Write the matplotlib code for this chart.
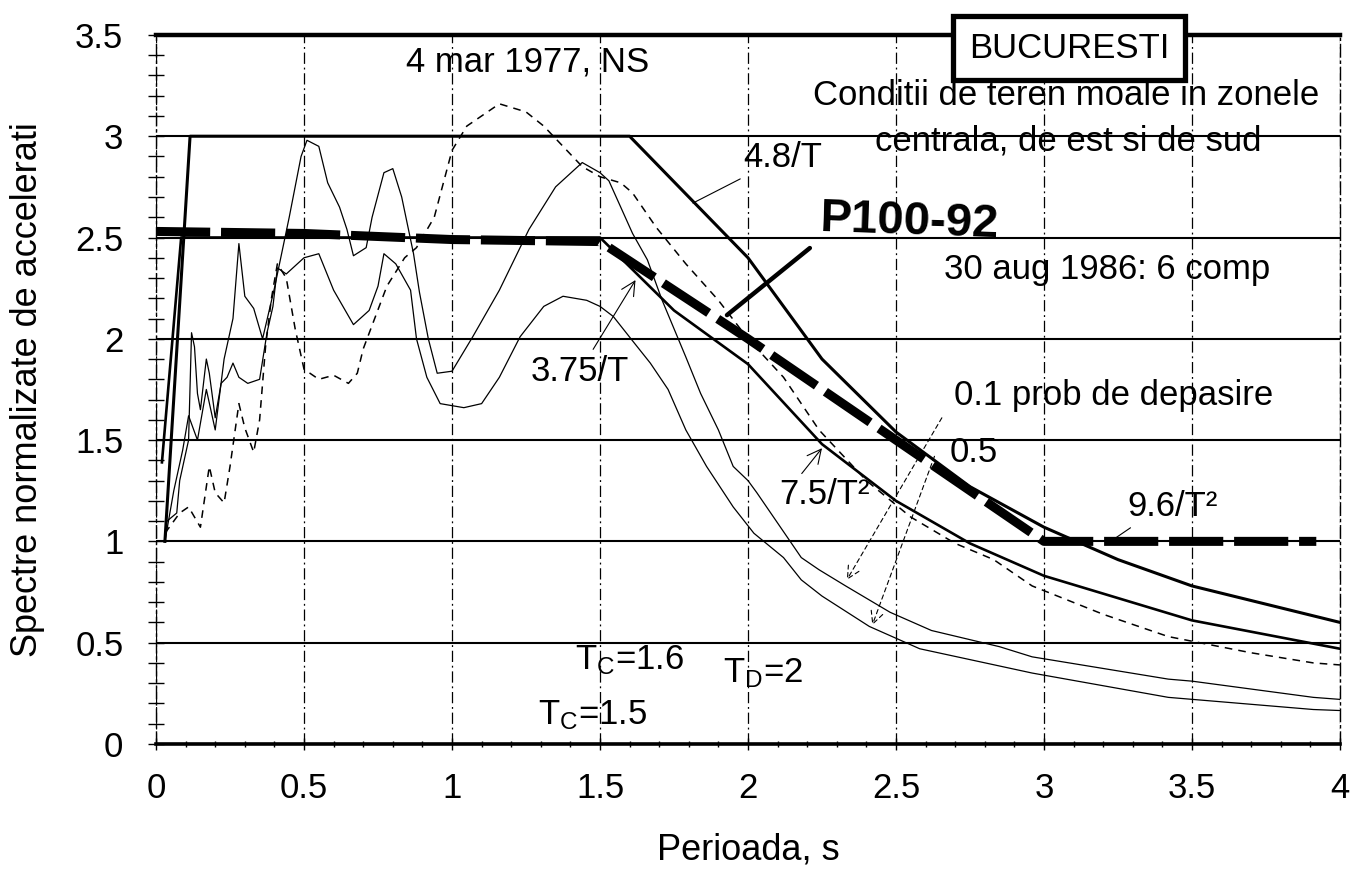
import numpy as np
import matplotlib
matplotlib.use('Agg')
import matplotlib.pyplot as plt
from matplotlib.ticker import MultipleLocator

plt.rcParams['font.family'] = ['Liberation Sans', 'DejaVu Sans']
plt.rcParams['mathtext.default'] = 'regular'

# spectru normativ Tc=1.6, TD=2 (3.0 / 4.8/T / 9.6/T^2)
T_a = [0.03, 0.115, 1.6, 2.0, 2.25, 2.5, 2.75, 3.0, 3.25, 3.5, 4.0]
S_a = [1.0, 3.0, 3.0, 2.4, 1.9, 1.54, 1.27, 1.07, 0.91, 0.78, 0.6]

# spectru normativ Tc=1.5 (2.5 / 3.75/T / 7.5/T^2)
T_b = [0.02, 0.085, 1.5, 1.75, 2.0, 2.25, 2.5, 2.75, 3.0, 3.5, 4.0]
S_b = [1.39, 2.5, 2.5, 2.14, 1.875, 1.48, 1.2, 0.99, 0.83, 0.61, 0.47]

# P100-92
T_p = [0.0, 0.5, 1.0, 1.5, 2.0, 2.5, 3.0, 3.92]
S_p = [2.53, 2.52, 2.49, 2.48, 2.0, 1.5, 1.0, 1.0]

# 4 mar 1977, NS
T_ns = [0.03, 0.08, 0.11, 0.15, 0.18, 0.2, 0.23, 0.25, 0.28, 0.3, 0.33, 0.35,
        0.37, 0.39, 0.41, 0.44, 0.47, 0.5, 0.55, 0.6, 0.65, 0.68, 0.7, 0.78,
        0.84, 0.88, 0.94, 1.0, 1.05, 1.16, 1.25, 1.31, 1.44, 1.5, 1.57, 1.61,
        1.69, 1.79, 1.9, 2.0, 2.12, 2.24, 2.4, 2.55, 2.7, 2.83, 2.96, 3.2,
        3.42, 3.7, 3.91, 4.0]
S_ns = [1.04, 1.14, 1.17, 1.07, 1.37, 1.24, 1.19, 1.37, 1.68, 1.56, 1.44, 1.6,
        1.96, 2.2, 2.37, 2.3, 2.05, 1.85, 1.8, 1.82, 1.78, 1.83, 1.95, 2.26,
        2.4, 2.45, 2.6, 2.93, 3.05, 3.16, 3.12, 3.05, 2.85, 2.8, 2.77, 2.72,
        2.55, 2.37, 2.19, 2.0, 1.81, 1.55, 1.3, 1.12, 0.99, 0.91, 0.78, 0.64,
        0.53, 0.45, 0.40, 0.39]

# 30 aug 1986, prob. de depasire 0.1
T_d1 = [0.03, 0.06, 0.09, 0.11, 0.14, 0.17, 0.2, 0.23, 0.26, 0.28, 0.3, 0.33,
        0.36, 0.4, 0.45, 0.49, 0.51, 0.55, 0.58, 0.62, 0.645, 0.667, 0.71,
        0.73, 0.77, 0.8, 0.83, 0.87, 0.89, 0.92, 0.95, 1.0, 1.07, 1.16, 1.26,
        1.35, 1.44, 1.5, 1.53, 1.61, 1.66, 1.71, 1.79, 1.84, 1.9, 1.95, 2.0,
        2.03, 2.18, 2.24, 2.33, 2.48, 2.62, 2.85, 2.96, 3.42, 3.5, 3.91, 4.0]
S_d1 = [1.0, 1.25, 1.45, 1.62, 1.5, 1.75, 1.55, 1.9, 2.1, 2.47, 2.21, 2.15,
        2.0, 2.25, 2.6, 2.9, 2.98, 2.95, 2.77, 2.65, 2.54, 2.41, 2.45,
        2.6, 2.82, 2.84, 2.7, 2.42, 2.23, 2.0, 1.83, 1.84, 2.01, 2.24, 2.54,
        2.75, 2.87, 2.82, 2.78, 2.52, 2.39, 2.19, 1.91, 1.73, 1.55, 1.37, 1.3,
        1.24, 0.92, 0.86, 0.78, 0.65, 0.56, 0.48, 0.43, 0.32, 0.31, 0.23, 0.22]

# 30 aug 1986, prob. de depasire 0.5
T_d2 = [0.037, 0.07, 0.08, 0.11, 0.12, 0.13, 0.14, 0.15, 0.17, 0.18, 0.2,
        0.22, 0.24, 0.26, 0.28, 0.31, 0.35, 0.375, 0.395, 0.41, 0.44, 0.5,
        0.55, 0.6, 0.667, 0.72, 0.75, 0.77, 0.81, 0.86, 0.88, 0.915, 0.96,
        1.04, 1.1, 1.16, 1.23, 1.31, 1.375, 1.455, 1.5, 1.545, 1.61, 1.67,
        1.73, 1.79, 1.86, 1.95, 2.02, 2.12, 2.18, 2.25, 2.41, 2.58, 2.96,
        3.42, 3.91, 4.0]
S_d2 = [1.1, 1.14, 1.3, 1.5, 2.03, 1.96, 1.73, 1.65, 1.9, 1.83, 1.61,
        1.78, 1.81, 1.88, 1.81, 1.78, 1.8, 2.03, 2.16, 2.35, 2.32, 2.4,
        2.42, 2.24, 2.07, 2.14, 2.26, 2.42, 2.37, 2.24, 2.0, 1.81, 1.68,
        1.66, 1.68, 1.81, 2.01, 2.16, 2.21, 2.19, 2.16, 2.11, 1.99, 1.88,
        1.75, 1.55, 1.37, 1.17, 1.04, 0.92, 0.81, 0.73, 0.58, 0.47, 0.35,
        0.23, 0.17, 0.165]

fig = plt.figure(figsize=(13.52, 8.69), dpi=100)
ax = fig.add_axes([0.1154, 0.1439, 0.8757, 0.8159])

dashdot = (0, (9, 3, 1.5, 3))

ax.plot(T_d2, S_d2, color='k', lw=0.9)
ax.plot(T_d1, S_d1, color='k', lw=0.9)
ax.plot(T_ns, S_ns, color='k', lw=1.1, ls=(0, (5, 4)))
ax.plot(T_b, S_b, color='k', lw=1.9)
ax.plot(T_a, S_a, color='k', lw=2.2)
ax.plot(T_p, S_p, color='k', lw=6.5, ls=(0, (6, 1.2)), zorder=5)

ax.set_xlim(0, 4)
ax.set_ylim(0, 3.5)
ax.xaxis.set_major_locator(MultipleLocator(0.5))
ax.yaxis.set_major_locator(MultipleLocator(0.5))
ax.xaxis.set_minor_locator(MultipleLocator(0.1))
ax.yaxis.set_minor_locator(MultipleLocator(0.1))
ax.xaxis.set_major_formatter(plt.FuncFormatter(lambda v, p: ('%g' % v)))
ax.yaxis.set_major_formatter(plt.FuncFormatter(lambda v, p: ('%g' % v)))

ax.grid(axis='y', which='major', color='k', lw=1.5, ls='-')
ax.grid(axis='x', which='major', color='k', lw=0.9, ls=dashdot)

ax.spines['top'].set_linewidth(3.2)
ax.spines['bottom'].set_linewidth(2.6)
for s in ['left', 'right']:
    ax.spines[s].set_linewidth(1.0)
    ax.spines[s].set_linestyle(dashdot)

ax.tick_params(axis='y', which='both', direction='inout', length=11, width=1,
               labelsize=25, pad=18)
ax.tick_params(axis='x', which='major', direction='inout', length=8, width=1,
               labelsize=25, pad=16)
ax.tick_params(axis='x', which='minor', direction='inout', length=5, width=1)

ax.set_xlabel('Perioada, s', fontsize=26)
ax.set_ylabel('Spectre normalizate de accelerati', fontsize=26)
ax.xaxis.set_label_coords(0.5, -0.125)
ax.yaxis.set_label_coords(-0.094, 0.5)

fs = 25
ax.text(1.257, 3.366, '4 mar 1977, NS', fontsize=fs, ha='center', va='center')
ax.text(3.084, 3.435, 'BUCURESTI', fontsize=fs, ha='center', va='center', zorder=6,
        bbox=dict(boxstyle='square,pad=0.45', fc='white', ec='k', lw=3.8))
ax.text(3.074, 3.203, 'Conditii de teren moale in zonele', fontsize=fs,
        ha='center', va='center')
ax.text(3.081, 2.976, 'centrala, de est si de sud', fontsize=fs,
        ha='center', va='center')
ax.text(3.213, 2.34, '30 aug 1986: 6 comp', fontsize=fs, ha='center', va='center')
ax.text(3.236, 1.718, '0.1 prob de depasire', fontsize=fs, ha='center', va='center')
ax.text(2.764, 1.441, '0.5', fontsize=fs, ha='center', va='center')

ax.annotate('4.8/T', xy=(1.814, 2.67), xytext=(2.118, 2.897), fontsize=fs,
            ha='center', va='center',
            arrowprops=dict(arrowstyle='-', lw=0.8, color='k', shrinkA=4, shrinkB=0))
ax.annotate('3.75/T', xy=(1.62, 2.29), xytext=(1.432, 1.841), fontsize=fs,
            ha='center', va='center',
            arrowprops=dict(arrowstyle='->', lw=0.8, color='k', shrinkA=2, shrinkB=0))
ax.annotate('7.5/T²', xy=(2.25, 1.46), xytext=(2.26, 1.229), fontsize=fs,
            ha='center', va='center',
            arrowprops=dict(arrowstyle='->', lw=0.8, color='k', shrinkA=2, shrinkB=0,
                            relpos=(0.2, 1.0)))
ax.annotate('9.6/T²', xy=(3.245, 1.02), xytext=(3.436, 1.17), fontsize=fs,
            ha='center', va='center',
            arrowprops=dict(arrowstyle='-', lw=0.8, color='k', shrinkA=2, shrinkB=0,
                            relpos=(0.1, 0.0)))
ax.annotate('', xy=(2.334, 0.81), xytext=(2.655, 1.61),
            arrowprops=dict(arrowstyle='->', lw=0.8, color='k', ls=(0, (4, 3)),
                            shrinkA=0, shrinkB=0, mutation_scale=22))
ax.annotate('', xy=(2.42, 0.587), xytext=(2.63, 1.42),
            arrowprops=dict(arrowstyle='->', lw=0.8, color='k', ls=(0, (4, 3)),
                            shrinkA=0, shrinkB=0, mutation_scale=22))

# eticheta P100-92 scrisa de mana
ax.text(2.547, 2.577, 'P100-92', fontsize=34, fontweight='heavy', ha='center',
        va='center', rotation=-2, zorder=7)
ax.annotate('', xy=(1.929, 2.117), xytext=(2.209, 2.448),
            arrowprops=dict(arrowstyle='-', lw=3.2, color='k', shrinkA=0, shrinkB=0),
            zorder=7)

ax.text(1.6, 0.415, r'T$_C$=1.6', fontsize=fs, ha='center', va='center')
ax.text(1.475, 0.14, r'T$_C$=1.5', fontsize=fs, ha='center', va='center')
ax.text(2.05, 0.35, r'T$_D$=2', fontsize=fs, ha='center', va='center')

plt.savefig('out.png', dpi=100)
